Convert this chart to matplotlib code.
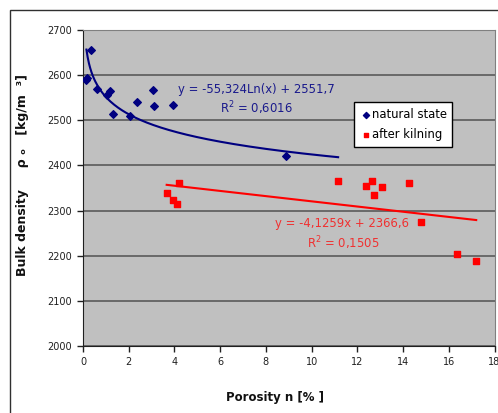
import numpy as np
import matplotlib
matplotlib.use("Agg")
from matplotlib import pyplot as plt
from matplotlib.patches import Rectangle

# natural state (porosity %, bulk density kg/m3)
nat_x = [0.13, 0.19, 0.35, 0.60, 1.04, 1.17, 1.33, 2.06, 2.35, 3.08, 3.11, 3.92, 8.87]
nat_y = [2589, 2594, 2655, 2569, 2555, 2565, 2513, 2510, 2540, 2566, 2532, 2534, 2421]

# after kilning
kiln_x = [3.66, 3.95, 4.13, 4.20, 11.16, 12.36, 12.63, 12.72, 13.09, 14.24, 14.78, 16.37, 17.20]
kiln_y = [2338, 2323, 2315, 2362, 2365, 2354, 2365, 2335, 2353, 2361, 2275, 2204, 2189]

# trend lines as printed on the chart
nat_a, nat_b = -55.324, 2551.7       # y = a*ln(x) + b
nat_range = [0.15, 11.16]
kiln_trend_x = [3.66, 17.20]
kiln_trend_y = [2357, 2279]

nat_eq = "y = -55,324Ln(x) + 2551,7"
nat_r2 = "R$^2$ = 0,6016"
kiln_eq = "y = -4,1259x + 2366,6"
kiln_r2 = "R$^2$ = 0,1505"

W, H = 498, 413
fig = plt.figure(figsize=(W / 100, H / 100), dpi=100)
fig.patch.set_facecolor("white")

# chart area border (runs off right/bottom like the original crop)
fig.add_artist(Rectangle((9.5 / W, -0.1), 1.2, (H - 9.5) / H + 0.1,
                         transform=fig.transFigure, fill=False,
                         edgecolor="#303030", linewidth=1.0))

ax = fig.add_axes([83 / W, (H - 346) / H, (494.5 - 83) / W, 316 / H])
ax.set_facecolor("#C0C0C0")

ax.set_xlim(0, 18)
ax.set_ylim(2000, 2700)
ax.set_xticks(np.arange(0, 19, 2))
ax.set_yticks(np.arange(2000, 2701, 100))
ax.grid(axis="y", color="#5a5a5a", linewidth=1.2)
ax.set_axisbelow(True)

for s in ["top", "right"]:
    ax.spines[s].set_color("#808080")
for s in ["left", "bottom"]:
    ax.spines[s].set_color("#202020")
ax.tick_params(direction="out", length=4, width=1, colors="#202020",
               labelsize=7, labelcolor="#202020", pad=4)

# trend lines
tx = np.linspace(nat_range[0], nat_range[1], 200)
ax.plot(tx, nat_a * np.log(tx) + nat_b, color="#000080", linewidth=1.5)
ax.plot(kiln_trend_x, kiln_trend_y, color="#FF0000", linewidth=1.5)

# data points
ax.scatter(nat_x, nat_y, marker="D", s=15, color="#000080", zorder=3,
           label="natural state")
ax.scatter(kiln_x, kiln_y, marker="s", s=18, color="#FF0000", zorder=3,
           label="after kilning")

def px(x, y):
    return x / W, 1 - y / H

fig.text(*px(256, 89), nat_eq, color="#1a1a8c", fontsize=8.4, ha="center", va="center")
fig.text(*px(256, 108), nat_r2, color="#1a1a8c", fontsize=8.4, ha="center", va="center")
fig.text(*px(342, 224), kiln_eq, color="#f03030", fontsize=8.4, ha="center", va="center")
fig.text(*px(343, 243), kiln_r2, color="#f03030", fontsize=8.4, ha="center", va="center")

leg = ax.legend(loc="upper left", bbox_to_anchor=((354 - 83) / 411.5, (346 - 102) / 316),
                frameon=True, fancybox=False, fontsize=8.4, handletextpad=0.0,
                handlelength=1.0, borderpad=0.5, labelspacing=0.6, markerscale=0.8,
                borderaxespad=0)
leg.get_frame().set_edgecolor("black")
leg.get_frame().set_linewidth(1.0)
leg.get_frame().set_facecolor("white")
leg.get_frame().set_alpha(1)

fig.text(*px(275, 397), "Porosity n [% ]", fontsize=8.5, fontweight="bold",
         ha="center", va="center", color="#111111")
fig.text(*px(23, 175), "Bulk density     ρ ₒ   [kg/m  ³]", fontsize=9, fontweight="bold",
         rotation=90, ha="center", va="center", color="#111111")

fig.savefig("out.png", dpi=100)
